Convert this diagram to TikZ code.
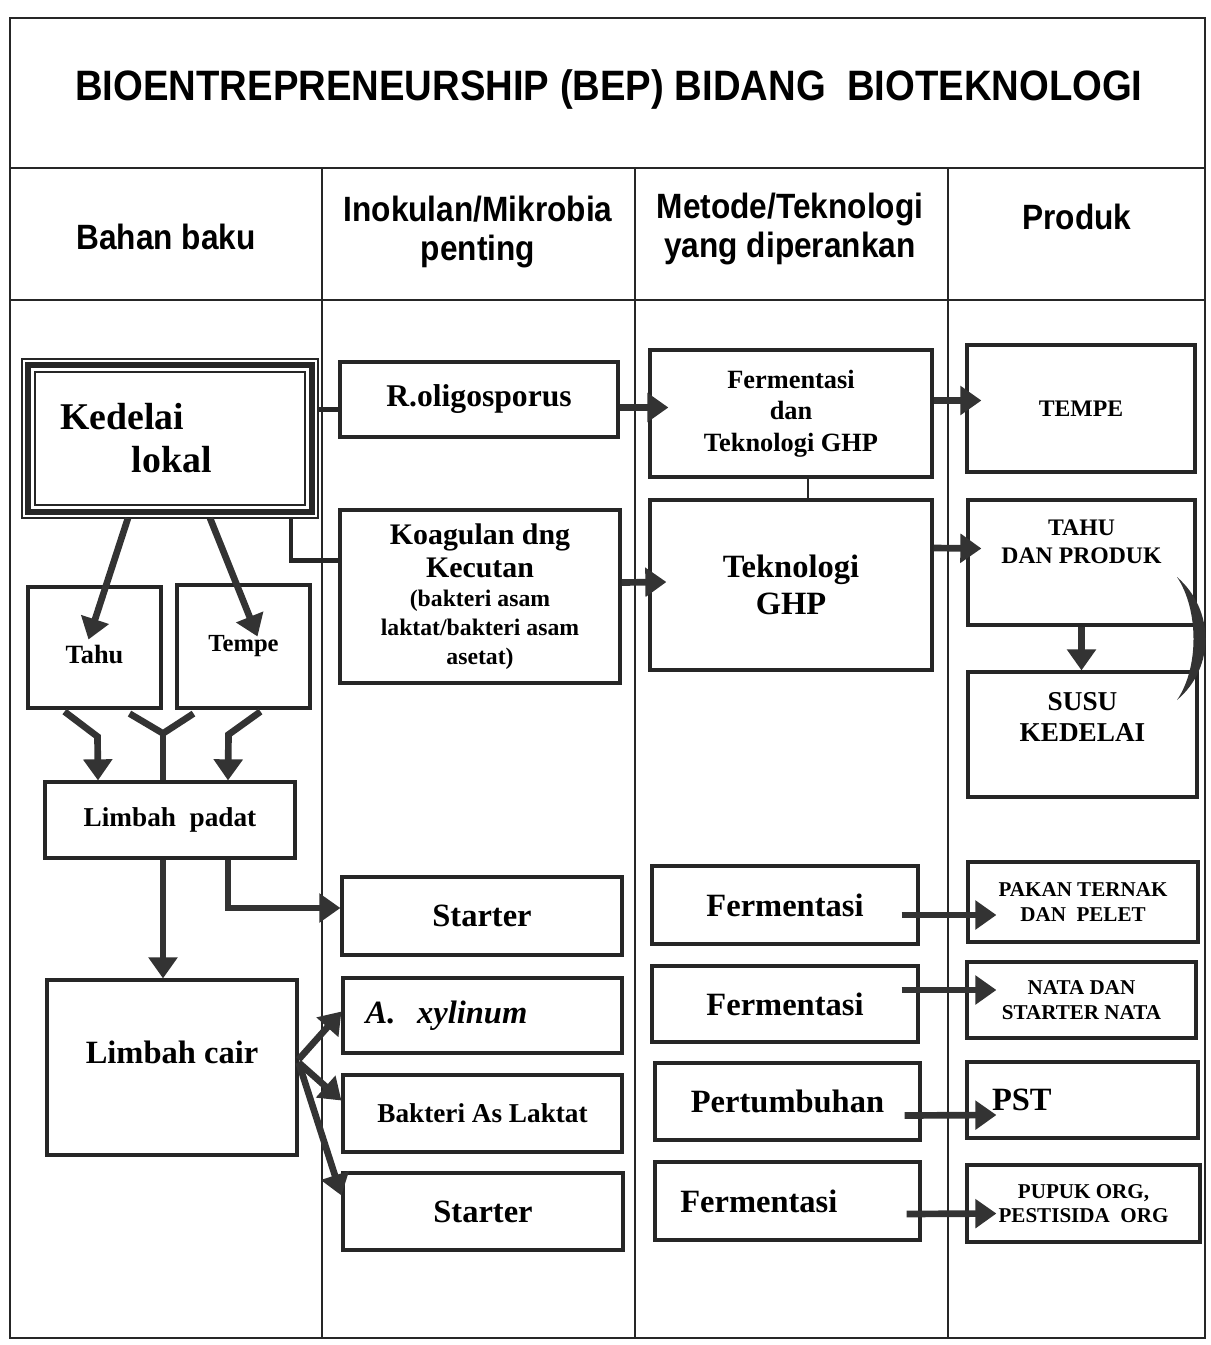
\documentclass[tikz,border=0pt]{standalone}
\usepackage{fontspec}
\setmainfont{Liberation Serif}
\newfontfamily\headfont[FakeStretch=0.9]{Liberation Sans}
\usetikzlibrary{arrows.meta,calc}

\begin{document}
\begin{tikzpicture}[x=0.02cm,y=-0.02cm,
  box/.style={draw=black!85,line width=1.8pt,align=center,inner sep=2pt},
  sz/.style 2 args={minimum width=#1*0.02cm,minimum height=#2*0.02cm},
  fs/.style 2 args={font=\bfseries\fontsize{#1}{#2}\selectfont},
  lft/.style={align=left,inner xsep=14pt,text width=#1},
  head/.style={font=\headfont\bfseries\fontsize{20}{22}\selectfont,align=center},
  arr/.style={draw=black!80,line width=3.8pt,-{Triangle[length=12pt,width=16pt]}},
  thk/.style={draw=black!80,line width=3.8pt},
  lnk/.style={draw=black!85,line width=2.6pt},
  rule/.style={draw=black!85,line width=0.8pt}]
\useasboundingbox (0,0) rectangle (1210,1345);

% table
\draw[rule,line width=1pt] (10,18) rectangle (1205,1338);
\draw[rule] (10,168) -- (1205,168) (10,300) -- (1205,300);
\draw[rule] (322,168) -- (322,1338) (635,168) -- (635,1338) (948,168) -- (948,1338);

\node[font=\headfont\bfseries\fontsize{24.2}{27}\selectfont] (title) at (609,90) {BIOENTREPRENEURSHIP (BEP) BIDANG\ \ BIOTEKNOLOGI};
\node[head] (hbahan) at (166,237) {Bahan baku};
\node[head] (hinokulan) at (478,232) {Inokulan/Mikrobia\\penting};
\node[head] (hmetode) at (790,229) {Metode/Teknologi\\yang diperankan};
\node[head] (hproduk) at (1077,217) {Produk};

% kedelai lokal
\node[box,sz={270}{133},line width=1.2pt,lft=125pt,fs={21.5}{24.5}] (kedelai) at (170,438.5) {Kedelai\\\hspace*{1.9em}lokal};
\draw[draw=black!85,line width=3pt] ($(kedelai.north west)+(-6,-6)$) rectangle ($(kedelai.south east)+(6,6)$);
\draw[draw=black!85,line width=1pt] ($(kedelai.north west)+(-12,-12)$) rectangle ($(kedelai.south east)+(12,12)$);

\node[box,sz={133}{121},label={[fs={15}{18},yshift=-4pt]center:Tahu}] (tahu) at (94.5,647.5) {};
\node[box,sz={133}{123},fs={14}{17}] (tempe) at (243.5,646.5) {Tempe};
\node[box,sz={250}{76},fs={15.5}{18}] (lpadat) at (170,820) {Limbah\ \ padat};
\node[box,sz={250}{175},label={[fs={18.5}{21},yshift=8.5pt]center:Limbah cair}] (lcair) at (172,1067.5) {};

% inokulan
\node[box,sz={278}{75},fs={18}{21}] (roligo) at (479,399.5) {R.oligosporus};
\node[box,sz={280}{173},fs={13.5}{16.5}] (koagulan) at (480,596.5) {{\fontsize{17}{19}\selectfont Koagulan dng}\\[2pt]{\fontsize{17}{19}\selectfont Kecutan}\\(bakteri asam\\laktat/bakteri asam\\asetat)};
\node[box,sz={280}{78},fs={18.5}{21}] (starter) at (482,916) {Starter};
\node[box,sz={279}{75},lft=133pt,inner xsep=12.5pt,font=\bfseries\itshape\fontsize{18.5}{21}\selectfont] (xylinum) at (482.5,1015.5) {A.\ \ xylinum};
\node[box,sz={279}{77},fs={15.5}{18}] (bal) at (482.5,1113.5) {Bakteri As Laktat};
\node[box,sz={280}{77},fs={18.5}{21}] (starterb) at (483,1211.5) {Starter};

% metode
\node[box,sz={282}{127},fs={15}{18}] (fermghp) at (791,413.5) {Fermentasi\\dan\\Teknologi GHP};
\node[box,sz={282}{170},fs={18.5}{21}] (tekghp) at (791,585) {Teknologi\\GHP};
\node[box,sz={266}{78},fs={18.5}{21}] (ferma) at (785,905) {Fermentasi};
\node[box,sz={266}{76},fs={18.5}{21}] (fermb) at (785,1004) {Fermentasi};
\node[box,sz={265}{77},fs={18.5}{21}] (tumbuh) at (787.5,1101.5) {Pertumbuhan};
\node[box,sz={265}{78},lft=122pt,fs={18.5}{21}] (fermc) at (787.5,1201) {Fermentasi};

% produk
\node[box,sz={228}{127},fs={13.5}{16}] (tempeprod) at (1081,408.5) {TEMPE};
\node[box,sz={227}{125},label={[fs={13.5}{16},align=center,yshift=12pt]center:{TAHU\\DAN PRODUK}}] (tahuprod) at (1081.5,562.5) {};
\node[box,sz={229}{125},label={[fs={15.5}{17.5},align=center,yshift=10pt]center:{SUSU\\KEDELAI}}] (susu) at (1082.5,734.5) {};
\node[box,sz={230}{80},fs={12}{14}] (pakan) at (1083,902) {PAKAN TERNAK\\DAN\ \ PELET};
\node[box,sz={229}{76},fs={12}{14}] (nata) at (1081.5,1000) {NATA DAN\\STARTER NATA};
\node[box,sz={231}{76},lft=103pt,fs={18.5}{21}] (pst) at (1082.5,1100) {PST};
\node[box,sz={233}{77},fs={12}{14}] (pupuk) at (1083.5,1203.5) {PUPUK ORG,\\PESTISIDA\ \ ORG};

% connectors
\draw[lnk] ($(kedelai.east)+(12,-29)$) -- ($(roligo.west)+(0,10)$);
\draw[lnk] ($(kedelai.south east)+(-15,12)$) |- ($(koagulan.west)+(0,-36)$);
\draw[arr] ($(kedelai.south)+(-42,12)$) -- ($(tahu.center)+(-6,-8)$);
\draw[arr] ($(kedelai.south)+(40,12)$) -- ($(tempe.center)+(14,-10)$);
\draw[arr] ($(roligo.east)+(0,8)$) -- ($(fermghp.west)+(20,-6)$);
\draw[arr] ($(koagulan.east)+(0,-14)$) -- ($(tekghp.west)+(18,-3)$);
\draw[arr] ($(fermghp.east)+(0,-13)$) -- ($(tempeprod.west)+(16,-8)$);
\draw[arr] ($(tekghp.east)+(0,-37)$) -- ($(tahuprod.west)+(15,-14)$);
\draw[rule] ($(fermghp.south)+(17,0)$) -- ($(tekghp.north)+(17,0)$);
\draw[arr] (tahuprod.south) -- (tahuprod.south |- susu.north);
\fill[black!80] (1177,577) .. controls (1215,610) and (1215,668) .. (1177,700)
  .. controls (1199,668) and (1199,610) .. (1177,577) -- cycle;

\draw[arr] ($(tahu.south)+(-30,2)$) -- ++(33,25) -- ($(lpadat.north)+(-72,0)$);
\draw[thk] ($(tahu.south)+(35,4)$) -- ($(lpadat.north)+(-7,-47)$) -- ($(tempe.south)+(-50,4)$);
\draw[thk] ($(lpadat.north)+(-7,-47)$) -- ($(lpadat.north)+(-7,0)$);
\draw[arr] ($(tempe.south)+(17,2)$) -- ++(-32,23) -- ($(lpadat.north)+(58,0)$);
\draw[arr] ($(lpadat.south)+(-7,0)$) -- ($(lcair.north)+(-9,0)$);
\draw[arr] ($(lpadat.south)+(58,0)$) |- ($(starter.west)+(0,-8)$);
\draw[arr] ($(lcair.east)+(0,-8)$) -- ($(xylinum.west)+(0,-4)$);
\draw[arr] ($(lcair.east)+(0,-5)$) -- ($(bal.west)+(0,-13)$);
\draw[arr] ($(lcair.east)+(0,-5)$) -- ($(starterb.west)+(0,-16)$);

\draw[arr] ($(ferma.east)+(-18,10)$) -- ($(pakan.west)+(30,13)$);
\draw[arr] ($(fermb.east)+(-18,-14)$) -- ($(nata.west)+(31,-10)$);
\draw[arr] ($(tumbuh.east)+(-17,14)$) -- ($(pst.west)+(31,15)$);
\draw[arr] ($(fermc.east)+(-15,13)$) -- ($(pupuk.west)+(31,10)$);
\end{tikzpicture}
\end{document}
